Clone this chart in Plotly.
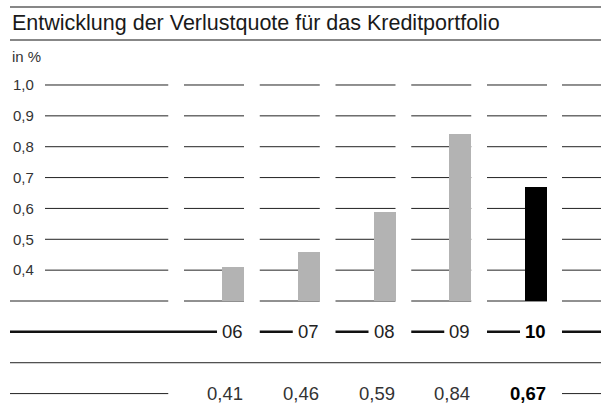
import plotly.graph_objects as go

years = ["06", "07", "08", "09", "10"]
verlustquote = [0.41, 0.46, 0.59, 0.84, 0.67]
y_ticks = [0.4, 0.5, 0.6, 0.7, 0.8, 0.9, 1.0]
title = "Entwicklung der Verlustquote für das Kreditportfolio"
unit = "in %"

BASE = 0.3       # bars start at the 0,3 line
PITCH = 75.75    # px per column
BAR_W = 22 / PITCH
SEG_L = 49 / PITCH   # gridline segment starts this far left of the bar centre
SEG_R = 11 / PITCH   # ...and ends at the bar's right edge
GAP_TXT = 27 / PITCH
FONT = "Liberation Sans"
LINE = "#222222"

x = list(range(len(years)))
colors = ["#b3b3b3"] * (len(years) - 1) + ["#000000"]

fig = go.Figure(go.Bar(
    x=x, y=[v - BASE for v in verlustquote], base=BASE,
    width=BAR_W, marker_color=colors, marker_line_width=0,
    hoverinfo="skip",
))

shapes = []


def hline(y, x0, x1, width=1, xref="x", color=LINE):
    shapes.append(dict(type="line", xref=xref, yref="y", x0=x0, x1=x1, y0=y, y1=y,
                       line=dict(color=color, width=width), layer="below"))


# gridlines, broken into one segment per column
for t in y_ticks + [BASE]:
    left = -2.482 if t != BASE else -2.944
    hline(t, left, -1 + SEG_R)
    for i in x:
        hline(t, i - SEG_L, i + SEG_R)
    hline(t, len(years) - SEG_L - 0.01, 4.858)

# year row (thick)
hline(0.2, -2.944, -GAP_TXT + SEG_R, width=2.5, color="#111111")
for i in x[1:]:
    hline(0.2, i - SEG_L, i + SEG_R - GAP_TXT, width=2.5, color="#111111")
hline(0.2, len(years) - SEG_L - 0.01, 4.858, width=2.5, color="#111111")

# thin separator
hline(0.1, -2.944, 4.858)

# values row
hline(0.0, -2.944, -1 + SEG_R)
hline(0.0, len(years) - SEG_L - 0.01, 4.858)

# title rules
for yp in [1 - 7 / 420, 1 - 40 / 420]:
    shapes.append(dict(type="line", xref="paper", yref="paper", x0=0, x1=1, y0=yp, y1=yp,
                       line=dict(color="#111111", width=1.2)))

annotations = [
    dict(text=title, xref="paper", yref="paper", x=0, y=1 - 23 / 420, xanchor="left",
         yanchor="middle", showarrow=False, font=dict(size=21.5, color="#1a1a1a", family=FONT)),
    dict(text=unit, xref="paper", yref="paper", x=0, y=1 - 57 / 420, xanchor="left",
         yanchor="middle", showarrow=False, font=dict(size=15, color="#333333", family=FONT)),
]
last = len(years) - 1
for i, (yr, v) in enumerate(zip(years, verlustquote)):
    bold = i == last
    lbl_yr = f"<b>{yr}</b>" if bold else yr
    val = f"{v:.2f}".replace(".", ",")
    lbl_v = f"<b>{val}</b>" if bold else val
    annotations.append(dict(text=lbl_yr, x=i + SEG_R, y=0.2, xanchor="right", yanchor="middle",
                            showarrow=False, xshift=1,
                            font=dict(size=18.5, color="#000000" if bold else "#222222", family=FONT)))
    annotations.append(dict(text=lbl_v, x=i + SEG_R, y=0.0, xanchor="right", yanchor="middle",
                            showarrow=False, xshift=1,
                            font=dict(size=18.5, color="#000000" if bold else "#333333", family=FONT)))

fig.update_layout(
    width=601, height=420,
    margin=dict(l=10, r=0, t=0, b=0),
    plot_bgcolor="white", paper_bgcolor="white",
    separators=",.",
    showlegend=False,
    shapes=shapes,
    annotations=annotations,
    bargap=0,
)
fig.update_xaxes(range=[-2.944, 4.858], visible=False, fixedrange=True)
fig.update_yaxes(range=[-0.0856, 1.2754], showgrid=False, zeroline=False, showline=False,
                 tickvals=y_ticks, tickformat=".1f", ticks="", ticklabelposition="inside",
                 ticklabelstandoff=0,
                 tickfont=dict(size=15, color="#333333", family=FONT), fixedrange=True)

fig.write_html("out.html", config={"displayModeBar": False},
               post_script="document.body.style.margin='0';")
